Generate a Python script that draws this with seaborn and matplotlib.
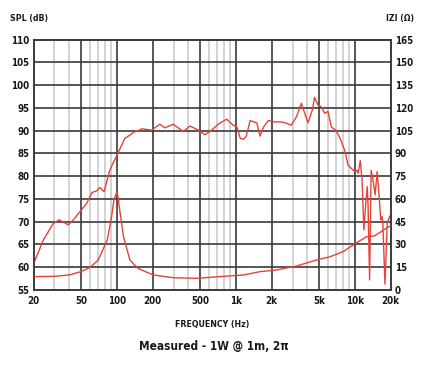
import numpy as np
import pandas as pd
import matplotlib
matplotlib.use("Agg")
import matplotlib.pyplot as plt
import seaborn as sns
from matplotlib import font_manager

# ---------------- data ----------------
spl_freq = [20, 24.2, 29.3, 32.9, 39.2, 43.2, 50.6, 55.9, 61.9, 68.2, 72.1, 78.3, 87.5, 91,
            100, 117, 129, 138, 157, 163, 196, 230, 254, 298, 362, 413, 485, 551, 606, 712,
            837, 950, 1020, 1090, 1160, 1220, 1280, 1320, 1500, 1600, 1710, 1880, 2130, 2430,
            2670, 2930, 3230, 3550, 3790, 4040, 4390, 4590, 4900, 5230, 5580, 5950, 6340, 6890,
            7460, 8210, 8770, 9350, 9980, 10400, 10650, 11100, 11500, 11900, 12300, 12700,
            12900, 13300, 13700, 14200, 14800, 15400, 16000, 16500, 17000, 17200, 17900,
            18700, 19500, 20000]
spl_db = [60.7, 66.0, 69.6, 70.4, 69.3, 70.4, 72.6, 74.0, 76.4, 76.8, 77.5, 76.6, 81.3, 82.3,
          84.5, 88.3, 89.0, 89.6, 90.2, 90.4, 90.1, 91.4, 90.6, 91.4, 89.8, 91.0, 90.1, 89.1,
          89.8, 91.4, 92.5, 91.2, 90.8, 88.3, 88.1, 88.7, 90.8, 92.2, 91.7, 88.8, 90.8, 92.2,
          91.9, 91.9, 91.6, 91.2, 93.0, 96.0, 93.8, 91.7, 94.5, 97.3, 95.6, 95.2, 93.8, 94.2,
          90.8, 90.1, 88.5, 85.7, 82.4, 81.7, 81.0, 81.3, 80.6, 83.4, 79.2, 68.2, 73.3, 77.7,
          74.0, 57.2, 81.3, 79.2, 75.9, 81.0, 75.5, 70.4, 71.1, 69.3, 56.3, 69.6, 71.0, 71.5]

imp_freq = [20, 30, 40, 50, 60, 70, 83.2, 90.6, 94.6, 100, 102, 105, 114, 129, 150, 203, 298,
            470, 727, 1160, 1600, 2200, 3230, 4790, 6190, 7940, 10200, 12500, 14600, 20000]
imp_ohm = [8.8, 9.0, 9.9, 12.1, 15.0, 19.8, 32.9, 48.3, 59.3, 64.4, 62.6, 54.9, 35.1, 19.8,
           14.3, 9.9, 8.1, 7.7, 8.8, 9.9, 12.1, 13.2, 15.8, 19.8, 21.9, 25.2, 30.8, 35.1,
           35.6, 42.5]

x_major = [20, 50, 100, 200, 500, 1000, 2000, 5000, 10000, 20000]
x_labels = ["20", "50", "100", "200", "500", "1k", "2k", "5k", "10k", "20k"]
x_minor = [30, 40, 60, 70, 80, 90, 300, 400, 600, 700, 800, 900,
           3000, 4000, 6000, 7000, 8000, 9000]
y_left = list(range(55, 111, 5))
y_right = list(range(0, 166, 15))

# ---------------- style ----------------
sns.set_theme(style="white")

# look for a narrow / condensed bold face among the installed fonts
cond_path = None
prefs = ["LiberationSansNarrow-Bold", "DejaVuSansCondensed-Bold", "RobotoCondensed-Bold",
         "OpenSans_Condensed-Bold", "OpenSansCondensed-Bold", "Roboto_Condensed-Bold"]
paths = [f.fname for f in font_manager.fontManager.ttflist]
for p in prefs:
    for fp in paths:
        if p.lower() in fp.lower().replace(" ", ""):
            cond_path = fp
            break
    if cond_path:
        break
if cond_path is None:
    for fp in paths:
        low = fp.lower()
        if ("condensed" in low or "narrow" in low) and "bold" in low and "oblique" not in low \
                and "italic" not in low:
            cond_path = fp
            break

def fprops(size):
    if cond_path:
        return font_manager.FontProperties(fname=cond_path, size=size)
    return font_manager.FontProperties(family="DejaVu Sans", weight="bold", stretch="condensed",
                                       size=size)

red = "#e5423a"
dark = "#3a3a3a"
light = "#d3d3d3"
txt = "#1a1a1a"

fig = plt.figure(figsize=(4.3, 3.65), dpi=100)
ax = fig.add_axes([33.5 / 430, 1 - 290 / 365, (390.7 - 33.5) / 430, (290 - 39.5) / 365])
ax2 = ax.twinx()

ax.set_xscale("log")
ax.set_xlim(20, 20000)
ax.set_ylim(55, 110)
ax2.set_ylim(0, 165)

# grid
for f in x_minor:
    ax.axvline(f, color=light, lw=1.4, zorder=0)
for f in x_major[1:-1]:
    ax.axvline(f, color=dark, lw=1.2, zorder=1)
for v in y_left[1:-1]:
    ax.axhline(v, color=dark, lw=1.2, zorder=1)

spl_df = pd.DataFrame({"f": spl_freq, "db": spl_db})
imp_df = pd.DataFrame({"f": imp_freq, "ohm": imp_ohm})
sns.lineplot(data=spl_df, x="f", y="db", ax=ax, color=red, lw=1.0, zorder=3, sort=False)
sns.lineplot(data=imp_df, x="f", y="ohm", ax=ax2, color=red, lw=1.0, zorder=3, sort=False)
ax2.set_xscale("log")
ax2.set_xlim(20, 20000)

ax.set_xticks(x_major)
ax.set_xticklabels(x_labels)
ax.set_xticks([], minor=True)
ax.set_yticks(y_left)
ax.set_yticklabels([str(v) for v in y_left])
ax2.set_yticks(y_right)
ax2.set_yticklabels([str(v) for v in y_right])

for a in (ax, ax2):
    a.set_xlabel("")
    a.set_ylabel("")
    a.tick_params(length=0, colors=txt, pad=3)
    for s in a.spines.values():
        s.set_color(dark)
        s.set_linewidth(1.2)
ax.tick_params(axis="x", pad=4)
for t in ax.get_xticklabels() + ax.get_yticklabels() + ax2.get_yticklabels():
    t.set_fontproperties(fprops(7))

fig.text(10 / 430, 1 - 18 / 365, "SPL (dB)", fontproperties=fprops(6.3), color=txt,
         va="center", ha="left")
fig.text(386 / 430, 1 - 18 / 365, "IZI (Ω)", fontproperties=fprops(6.3), color=txt,
         va="center", ha="left")
fig.text(212 / 430, 1 - 324 / 365, "FREQUENCY (Hz)", fontproperties=fprops(6.3), color=txt,
         va="center", ha="center")
fig.text(214 / 430, 1 - 346 / 365, "Measured - 1W @ 1m, 2π", fontproperties=fprops(8.5),
         color=txt, va="center", ha="center")

fig.savefig("out.png", dpi=100)
